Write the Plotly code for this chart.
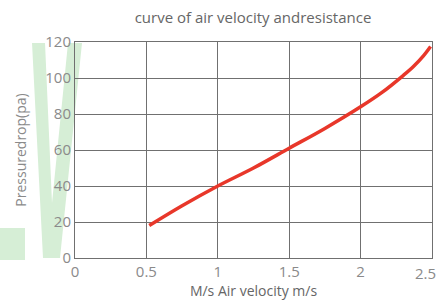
import plotly.graph_objects as go

velocity = [0.52, 0.75, 1.0, 1.25, 1.5, 1.75, 2.0, 2.15, 2.3, 2.37, 2.44, 2.49]
pressure = [18, 29, 40, 50, 61, 72, 84, 92, 101.5, 106.4, 112.3, 117.5]

x_ticks = [0, 0.5, 1, 1.5, 2, 2.5]
x_labels = ["0", "0.5", "1", "1.5", "2", ""]
last_label = "2.5"
y_ticks = [0, 20, 40, 60, 80, 100, 120]

W, H = 439, 303
L, R, T, B = 75, 7, 42, 45
pw, ph = W - L - R, H - T - B

def px(x, y):
    return (x - L) / pw, (H - B - y) / ph

grey = "#8a8a8a"
font = "Open Sans"

fig = go.Figure()
fig.add_trace(go.Scatter(
    x=velocity, y=pressure, mode="lines",
    line=dict(color="#e8372a", width=3.5, shape="spline", smoothing=1.0),
    showlegend=False, hoverinfo="skip"))

# watermark "V" and block
vpts = [(32, 43), (45, 43), (52, 203), (68, 43), (82, 43), (60, 258), (43, 258)]
path = "M " + " L ".join(f"{px(a,b)[0]:.4f},{px(a,b)[1]:.4f}" for a, b in vpts) + " Z"
shapes = [
    dict(type="path", xref="paper", yref="paper", path=path,
         fillcolor="#d6eed6", line=dict(width=0), layer="below"),
    dict(type="rect", xref="paper", yref="paper",
         x0=px(0, 228)[0], y0=px(0, 228)[1], x1=px(25, 260)[0], y1=px(25, 260)[1],
         fillcolor="#d6eed6", line=dict(width=0), layer="below"),
]

fig.add_annotation(x=x_ticks[-1], y=0, xref="x", yref="y", text=last_label,
                   showarrow=False, xanchor="right", yanchor="top",
                   xshift=6, yshift=-3, font=dict(size=15, color=grey, family=font))

fig.update_layout(
    width=W, height=H,
    margin=dict(l=L, r=R, t=T, b=B),
    paper_bgcolor="white", plot_bgcolor="rgba(0,0,0,0)",
    font=dict(family=font, color=grey, size=15),
    title=dict(text="curve of air velocity andresistance", x=(253 / W), xanchor="center",
               y=1 - 18 / H, yanchor="middle", font=dict(size=15, color="#666666")),
    shapes=shapes,
    xaxis=dict(range=[0, 2.5], tickvals=x_ticks, ticktext=x_labels, automargin=False,
               showgrid=True, gridcolor="#707070", gridwidth=1,
               showline=True, linecolor="#707070", linewidth=1, mirror=True,
               zeroline=False, ticks="", tickfont=dict(size=15, color=grey),
               title=dict(text="M/s Air velocity m/s", font=dict(size=14, color="#666666"), standoff=3)),
    yaxis=dict(range=[0, 120], tickvals=y_ticks, automargin=False,
               showgrid=True, gridcolor="#707070", gridwidth=1,
               showline=True, linecolor="#707070", linewidth=1, mirror=True,
               zeroline=False, ticks="", tickfont=dict(size=15, color=grey),
               title=dict(text="Pressuredrop(pa)", font=dict(size=14, color=grey), standoff=15)),
)
fig.write_html("out.html", config={"displayModeBar": False},
               post_script="document.body.style.margin='0';document.body.style.overflow='hidden';")
